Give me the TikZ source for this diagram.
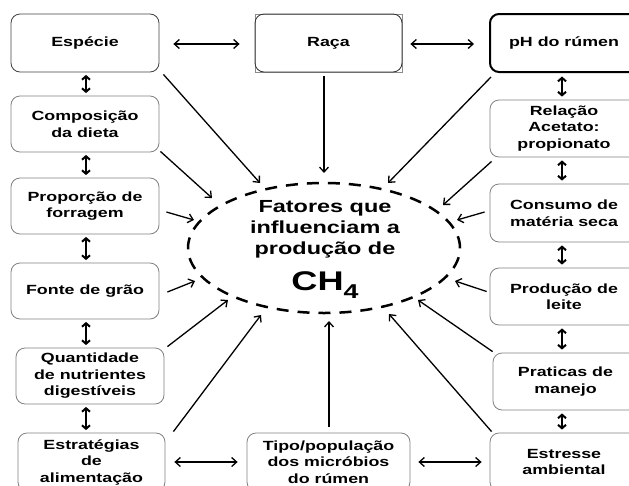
\documentclass[tikz,border=0pt]{standalone}
\usepackage{fontspec}
\setmainfont{Liberation Sans}[FakeStretch=1.34]
\usetikzlibrary{arrows.meta,shapes.geometric}
\tikzset{
  box/.style={draw=black!50, line width=0.8pt, rounded corners=9pt, align=center, inner sep=0pt,
    font=\bfseries\fontsize{13.3}{16.5}\selectfont},
  arr/.style={line width=1.3pt, -{Straight Barb[length=5pt,width=9pt]}},
  darr/.style={line width=1.3pt, {Straight Barb[length=5pt,width=9pt]}-{Straight Barb[length=5pt,width=9pt]}},
  vdarr/.style={line width=2pt, {Straight Barb[length=3.5pt,width=8pt]}-{Straight Barb[length=3.5pt,width=8pt]}},
  ell/.style={draw, ellipse, line width=2.5pt, dash pattern=on 12pt off 9pt, inner sep=0pt},
}
\begin{document}
\begin{tikzpicture}[x=1pt,y=-1pt]
\useasboundingbox (0,0) rectangle (629,485);
\clip (0,0) rectangle (629,485);
% left column
\node[box, draw=black!75, minimum width=148pt, minimum height=58pt] (esp) at (85,43) {Espécie};
\node[box, minimum width=148pt, minimum height=56pt] (comp) at (85,124) {Composição\\da dieta};
\node[box, minimum width=148pt, minimum height=56pt] (prop) at (85,206) {Proporção de\\forragem};
\node[box, minimum width=148pt, minimum height=56pt] (fonte) at (85,291) {Fonte de grão};
\node[box, minimum width=148pt, minimum height=56pt] (quant) at (90,376) {Quantidade\\de nutrientes\\digestíveis};
\node[box, minimum width=147pt, minimum height=58pt] (estr) at (91.5,462) {Estratégias\\de\\alimentação};
% middle
\draw[black!45, line width=0.8pt] (255,14) rectangle (402,72);
\node[box, draw=black!80, minimum width=147pt, minimum height=58pt] (raca) at (328.5,43) {Raça};
\node[box, minimum width=163pt, minimum height=58pt] (tipo) at (328.5,462) {Tipo/população\\dos micróbios\\do rúmen};
% right column
\node[box, draw=black, line width=2pt, minimum width=148pt, minimum height=58pt] (ph) at (564,43) {pH do rúmen};
\node[box, minimum width=148pt, minimum height=57pt] (rel) at (564,128.5) {Relação\\Acetato:\\propionato};
\node[box, minimum width=148pt, minimum height=58pt] (cons) at (564,213) {Consumo de\\matéria seca};
\node[box, minimum width=148pt, minimum height=57pt] (prod) at (564,296.5) {Produção de\\leite};
\node[box, minimum width=145pt, minimum height=57pt] (prat) at (565.5,381.5) {Praticas de\\manejo};
\node[box, minimum width=148pt, minimum height=58pt] (stress) at (564,462) {Estresse\\ambiental};
% centre
\node[ell, minimum width=272pt, minimum height=130pt] (c) at (324,248) {};
\node[align=center, font=\bfseries\fontsize{17.5}{21}\selectfont] (ctext) at (325,229) {Fatores que\\influenciam a\\produção de};
\node[anchor=base, font=\bfseries\fontsize{27}{30}\selectfont] (ch) at (325,290) {CH\raisebox{-8pt}{\fontsize{20}{20}\selectfont 4}};
% tips
\coordinate (t1) at (260,183);
\coordinate (t2) at (212,198);
\coordinate (t3) at (194,220);
\coordinate (t4) at (195,281);
\coordinate (t5) at (228,300);
\coordinate (t6) at (261,315);
\coordinate (t7) at (329,321);
\coordinate (t8) at (389,314);
\coordinate (t9) at (418,300);
\coordinate (t10) at (455,281);
\coordinate (t11) at (457,220);
\coordinate (t12) at (443,205);
\coordinate (t13) at (388,183);
\coordinate (t14) at (324,173);
\draw[arr] ([shift={(4,2)}]esp.south east) -- (t1);
\draw[arr] ([shift={(1,-1)}]comp.south east) -- (t2);
\draw[arr] ([shift={(7,6)}]prop.east) -- (t3);
\draw[arr] ([shift={(8,1)}]fonte.east) -- (t4);
\draw[arr] ([shift={(3,-1)}]quant.north east) -- (t5);
\draw[arr] ([shift={(8,-1)}]estr.north east) -- (t6);
\draw[arr] ([shift={(0.5,-6)}]tipo.north) -- (t7);
\draw[arr] ([shift={(2,-1)}]stress.north west) -- (t8);
\draw[arr] ([shift={(0,-1)}]prat.north west) -- (t9);
\draw[arr] ([shift={(-3,-5)}]prod.west) -- (t10);
\draw[arr] ([shift={(-5,-1)}]cons.west) -- (t11);
\draw[arr] ([shift={(2,4)}]rel.south west) -- (t12);
\draw[arr] ([shift={(2,4)}]ph.south west) -- (t13);
\draw[arr] ([shift={(-4.5,4)}]raca.south) -- (t14);
% horizontal double arrows
\draw[darr] ([shift={(14,1)}]esp.east) -- ([shift={(-15,1)}]raca.west);
\draw[darr] ([shift={(8,1)}]raca.east) -- ([shift={(-15,1)}]ph.west);
\draw[darr] ([shift={(9,0)}]estr.east) -- ([shift={(-9,0)}]tipo.west);
\draw[darr] ([shift={(8,0)}]tipo.east) -- ([shift={(-8,0)}]stress.west);
% vertical double arrows
\coordinate (lx) at (86,0);
\coordinate (rx) at (562,0);
\draw[vdarr] ([shift={(0,2.5)}]esp.south -| lx) -- ([shift={(0,-2.5)}]comp.north -| lx);
\draw[vdarr] ([shift={(0,2.5)}]comp.south -| lx) -- ([shift={(0,-2.5)}]prop.north -| lx);
\draw[vdarr] ([shift={(0,2.5)}]prop.south -| lx) -- ([shift={(0,-2.5)}]fonte.north -| lx);
\draw[vdarr] ([shift={(0,2.5)}]fonte.south -| lx) -- ([shift={(0,-2.5)}]quant.north -| lx);
\draw[vdarr] ([shift={(0,2.5)}]quant.south -| lx) -- ([shift={(0,-2.5)}]estr.north -| lx);
\draw[vdarr] ([shift={(0,3.5)}]ph.south -| rx) -- ([shift={(0,-3)}]rel.north -| rx);
\draw[vdarr] ([shift={(0,3)}]rel.south -| rx) -- ([shift={(0,-3)}]cons.north -| rx);
\draw[vdarr] ([shift={(0,3)}]cons.south -| rx) -- ([shift={(0,-3)}]prod.north -| rx);
\draw[vdarr] ([shift={(0,3)}]prod.south -| rx) -- ([shift={(0,-3)}]prat.north -| rx);
\draw[vdarr] ([shift={(0,3)}]prat.south -| rx) -- ([shift={(0,-3)}]stress.north -| rx);
\end{tikzpicture}
\end{document}
